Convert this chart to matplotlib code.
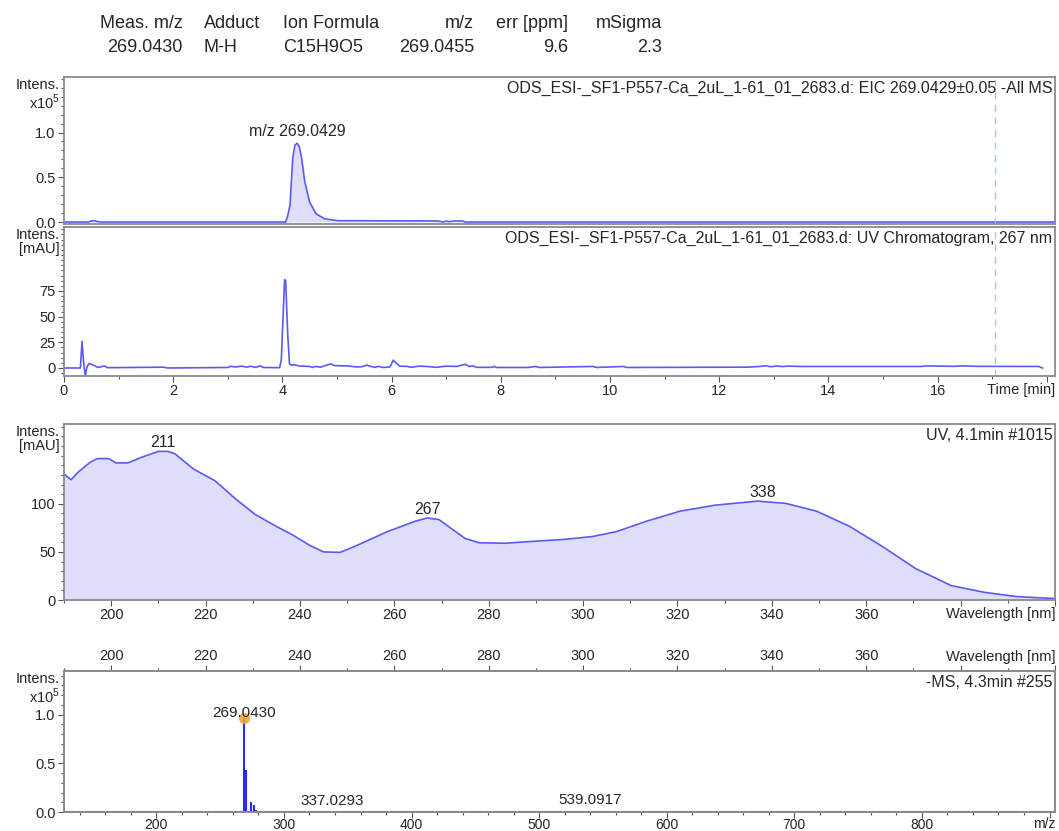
import matplotlib
matplotlib.use('Agg')
import matplotlib.pyplot as plt
from matplotlib.ticker import MultipleLocator, FixedLocator

plt.rcParams['font.family'] = ['Liberation Sans', 'DejaVu Sans']
plt.rcParams['mathtext.fontset'] = 'custom'
plt.rcParams['mathtext.rm'] = 'Liberation Sans'

# header table
hdr_cols = ['Meas. m/z', 'Adduct', 'Ion Formula', 'm/z', 'err [ppm]', 'mSigma']
hdr_vals = ['269.0430', 'M-H', 'C15H9O5', '269.0455', '9.6', '2.3']

# EIC 269.0429 +/- 0.05 (x1e5)
eic_t = [0.0, 0.45, 0.50, 0.55, 0.60, 0.65, 4.06, 4.10, 4.14, 4.19, 4.23, 4.27, 4.31,
         4.35, 4.41, 4.50, 4.62, 4.78, 5.02, 6.85, 6.95, 7.00, 7.05, 7.15, 7.30, 7.35, 18.2]
eic_i = [0.0, 0.0, 0.012, 0.015, 0.008, 0.0, 0.0, 0.08, 0.19, 0.72, 0.86, 0.88, 0.84,
         0.72, 0.45, 0.22, 0.09, 0.035, 0.015, 0.012, 0.0, 0.012, 0.004, 0.012, 0.012, 0.0, 0.0]

# UV chromatogram 267 nm (mAU)
uv_t = [0.0, 0.30, 0.33, 0.36, 0.39, 0.42, 0.46, 0.55, 0.62, 0.74, 0.80, 1.82, 1.90,
        3.00, 3.05, 3.15, 3.25, 3.35, 3.42, 3.50, 3.60, 3.65, 3.95, 3.98, 4.02, 4.04,
        4.06, 4.08, 4.10, 4.13, 4.17, 4.21, 4.30, 4.50, 4.55, 4.60, 4.70, 4.85, 4.90,
        4.95, 5.20, 5.35, 5.45, 5.55, 5.60, 5.70, 5.75, 5.85, 5.97, 6.03, 6.10, 6.15,
        6.30, 6.35, 6.50, 6.70, 6.80, 7.00, 7.20, 7.30, 7.35, 7.42, 7.50, 7.55, 7.85,
        7.88, 7.92, 8.50, 8.64, 8.70, 9.69, 9.75, 10.25, 10.30, 12.50, 12.75, 12.85,
        12.95, 13.05, 13.15, 13.25, 13.50, 15.70, 15.80, 16.30, 16.45, 16.70, 17.85, 17.92]
uv_i = [0.0, 0.0, 26.0, 5.0, -8.0, 1.0, 4.5, 2.5, 0.5, 2.0, 0.3, 0.8, 0.0,
        0.5, 1.6, 1.0, 1.8, 0.8, 1.8, 0.6, 2.0, 0.5, 0.3, 8.0, 60.0, 86.0,
        85.0, 56.0, 30.0, 4.0, 2.5, 3.3, 2.0, 1.5, 0.5, 1.5, 0.8, 3.5, 3.8,
        2.3, 2.0, 1.0, 1.2, 2.8, 1.8, 0.6, 1.6, 0.5, 1.0, 7.6, 4.0, 1.8,
        1.5, 0.6, 1.8, 1.3, 0.6, 1.8, 1.5, 3.0, 3.6, 1.5, 2.0, 0.6, 0.6,
        1.6, 0.5, 0.5, 1.5, 0.5, 1.5, 0.5, 1.5, 0.5, 0.8, 1.5, 2.2,
        1.2, 2.0, 1.4, 1.8, 1.5, 1.5, 2.0, 1.6, 2.1, 1.6, 1.5, 0.0]

# UV spectrum at 4.1 min (mAU)
wl = [190, 191.5, 193, 195.5, 197, 199.5, 201, 203.5, 206.5, 210, 212, 213.5, 217.5,
      222, 226.5, 230.5, 235, 238.5, 242, 245, 248.5, 251.5, 258.5, 264.5, 267, 269.5,
      272, 275, 278, 283.5, 288.5, 296, 302, 307, 313.5, 320.5, 328, 337, 343, 349.5,
      356.5, 363.5, 370.5, 378, 385, 392, 400]
absorb = [131, 125, 133, 143, 147, 147, 142.5, 142.5, 148.5, 154.5, 154.5, 152, 136,
          124, 104.5, 89, 76.5, 67.5, 57, 50, 49.5, 55.5, 71, 82, 85.3, 83.5,
          74.5, 64, 59.5, 59, 60.7, 63, 66, 71, 82, 92.3, 98.6, 102.8, 100.4, 92.3,
          76.5, 55.4, 32.6, 15, 8, 3.5, 1.5]
uv_peaks = [211, 267, 338]
uv_peak_h = [154.7, 85.3, 102.8]

# -MS at 4.3 min (x1e5)
mz = [148.8, 152.7, 176.7, 179.3, 192.7, 208.5, 226.5, 269.0430, 270.05, 274.2,
      276.3, 278.4, 293.4, 337.0293, 415.0, 539.0917]
ms_i = [0.012, 0.010, 0.012, 0.008, 0.008, 0.010, 0.014, 0.962, 0.43, 0.10,
        0.076, 0.02, 0.015, 0.012, 0.008, 0.012]
ms_labels = ['269.0430', '337.0293', '539.0917']

line_c = '#5a5af2'
fill_c = '#dedefa'
spine_c = '#8a8a8a'
txt_c = '#262626'

W, H = 1059, 831
fig = plt.figure(figsize=(W / 100, H / 100), dpi=100)


def px_axes(top, bottom, left=64, right=1055):
    return fig.add_axes([left / W, 1 - bottom / H, (right - left) / W, (bottom - top) / H])


def style(ax):
    for s in ax.spines.values():
        s.set_color(spine_c)
        s.set_linewidth(1.3)
    ax.tick_params(which='both', direction='out', color='#555555', labelcolor=txt_c,
                   labelsize=10.5, pad=2, width=0.8)
    ax.tick_params(which='major', length=4)
    ax.tick_params(which='minor', length=2)


def ylab(ax, line2):
    ax.annotate('Intens.\n' + line2, xy=(0, 1), xycoords='axes fraction',
                xytext=(-3, -1), textcoords='offset points', ha='right', va='top',
                fontsize=10.5, color=txt_c, linespacing=1.0)


def corner(ax, s):
    ax.annotate(s, xy=(1, 1), xycoords='axes fraction', xytext=(-2, -3),
                textcoords='offset points', ha='right', va='top', fontsize=11.5, color=txt_c)


def xname(ax, s, top=False, off=5):
    if top:
        ax.annotate(s, xy=(1, 1), xycoords='axes fraction', xytext=(0, off),
                    textcoords='offset points', ha='right', va='bottom', fontsize=10.5, color=txt_c)
    else:
        ax.annotate(s, xy=(1, 0), xycoords='axes fraction', xytext=(0, -off),
                    textcoords='offset points', ha='right', va='top', fontsize=10.5, color=txt_c)


# header
hdr_x = [183, 204, 283, 474, 568, 662]
hdr_ha = ['right', 'left', 'left', 'right', 'right', 'right']
for c, v, x, ha in zip(hdr_cols, hdr_vals, hdr_x, hdr_ha):
    fig.text(x / W, 1 - 24 / H, c, ha=ha, va='center', fontsize=13, color=txt_c)
    fig.text(x / W, 1 - 47 / H, v, ha=ha, va='center', fontsize=13, color=txt_c)

# panel 1: EIC
ax1 = px_axes(77, 224)
style(ax1)
ax1.fill_between(eic_t, eic_i, 0, color=fill_c, lw=0)
ax1.plot(eic_t, eic_i, color=line_c, lw=1.2)
ax1.set_xlim(0, 18.15)
ax1.set_ylim(-0.022, 1.62)
ax1.yaxis.set_major_locator(FixedLocator([0.0, 0.5, 1.0]))
ax1.set_yticklabels(['0.0', '0.5', '1.0'])
ax1.yaxis.set_minor_locator(MultipleLocator(0.1))
ax1.set_xticks([])
ax1.axvline(17.05, color='#a8c8f0', lw=1, ls=(0, (5, 4)))
ax1.text(4.27, 0.93, 'm/z 269.0429', ha='center', va='bottom', fontsize=11.5, color=txt_c)
ylab(ax1, 'x10$^\\mathrm{5}$')
corner(ax1, 'ODS_ESI-_SF1-P557-Ca_2uL_1-61_01_2683.d: EIC 269.0429±0.05 -All MS')

# panel 2: UV chromatogram
ax2 = px_axes(227, 376)
style(ax2)
ax2.plot(uv_t, uv_i, color=line_c, lw=1.2)
ax2.set_xlim(0, 18.15)
ax2.set_ylim(-7.8, 137.3)
ax2.yaxis.set_major_locator(FixedLocator([0, 25, 50, 75]))
ax2.yaxis.set_minor_locator(MultipleLocator(5))
ax2.xaxis.set_major_locator(FixedLocator(list(range(0, 19, 2))))
ax2.set_xticklabels([str(v) for v in range(0, 17, 2)] + [''])
ax2.xaxis.set_minor_locator(MultipleLocator(1))
ax2.axvline(17.05, color='#a8c8f0', lw=1, ls=(0, (5, 4)))
ylab(ax2, '[mAU]')
corner(ax2, 'ODS_ESI-_SF1-P557-Ca_2uL_1-61_01_2683.d: UV Chromatogram, 267 nm')
xname(ax2, 'Time [min]')

# panel 3: UV spectrum
wl_ticks = list(range(200, 401, 20))
wl_labels = [str(v) if v <= 360 else '' for v in wl_ticks]
ax3 = px_axes(423.5, 600)
style(ax3)
ax3.fill_between(wl, absorb, 0, color=fill_c, lw=0)
ax3.plot(wl, absorb, color=line_c, lw=1.2)
ax3.set_xlim(190, 400)
ax3.set_ylim(0, 183.5)
ax3.yaxis.set_major_locator(FixedLocator([0, 50, 100]))
ax3.yaxis.set_minor_locator(MultipleLocator(10))
ax3.xaxis.set_major_locator(FixedLocator(wl_ticks))
ax3.set_xticklabels(wl_labels)
ax3.xaxis.set_minor_locator(MultipleLocator(10))
for p, h in zip(uv_peaks, uv_peak_h):
    ax3.text(p, h + 1.5, str(p), ha='center', va='bottom', fontsize=11.5, color=txt_c)
ylab(ax3, '[mAU]')
corner(ax3, 'UV, 4.1min #1015')
xname(ax3, 'Wavelength [nm]')

# panel 4: MS spectrum
ax4 = px_axes(671, 812)
style(ax4)
ax4.tick_params(axis='x', labelsize=10, pad=0.5)
ax4.vlines(mz, 0, ms_i, color='#2a2af5', lw=1.5)
ax4.axhline(0, color='#3a3aa0', lw=1.5)
ax4.plot([mz[7]], [ms_i[7]], 'o', color='#f2a43a', ms=7, alpha=0.85)
ax4.set_xlim(127.6, 904.3)
ax4.set_ylim(0, 1.448)
ax4.yaxis.set_major_locator(FixedLocator([0.0, 0.5, 1.0]))
ax4.set_yticklabels(['0.0', '0.5', '1.0'])
ax4.yaxis.set_minor_locator(MultipleLocator(0.1))
ax4.xaxis.set_major_locator(FixedLocator(list(range(200, 901, 100))))
ax4.set_xticklabels([str(v) for v in range(200, 801, 100)] + [''])
ax4.xaxis.set_minor_locator(MultipleLocator(20))
ax4.text(mz[7], 1.02, ms_labels[0], ha='center', va='center', fontsize=11, color=txt_c)
ax4.text(mz[13] + 1, 0.11, ms_labels[1], ha='center', va='center', fontsize=11, color=txt_c)
ax4.text(mz[15] + 1, 0.12, ms_labels[2], ha='center', va='center', fontsize=11, color=txt_c)
ylab(ax4, 'x10$^\\mathrm{5}$')
corner(ax4, '-MS, 4.3min #255')
ax4.annotate('m/z', xy=(1, 0), xycoords='axes fraction', xytext=(0, -3.5),
             textcoords='offset points', ha='right', va='top', fontsize=10, color=txt_c)

ax4t = ax4.twiny()
ax4t.set_xlim(190, 400)
style(ax4t)
ax4t.xaxis.set_major_locator(FixedLocator(wl_ticks))
ax4t.set_xticklabels(wl_labels)
ax4t.xaxis.set_minor_locator(MultipleLocator(10))
xname(ax4t, 'Wavelength [nm]', top=True)

fig.savefig('out.png', dpi=100)
